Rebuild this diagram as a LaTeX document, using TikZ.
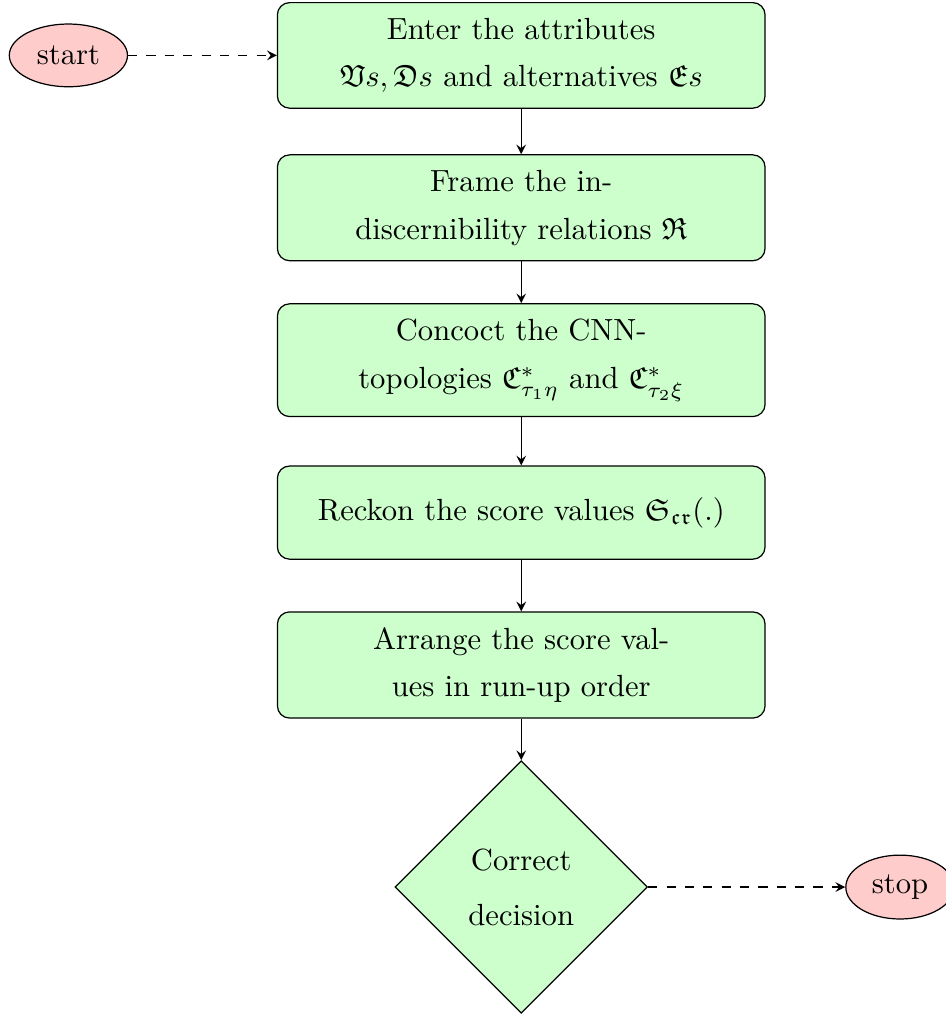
\documentclass[tikz,border=0pt]{standalone}
\usepackage{amsmath,amssymb}
\usetikzlibrary{shapes.geometric}
\begin{document}
\begin{tikzpicture}[node distance=1.75cm,
	startstop/.style={ellipse, minimum height=0.72cm, text centered, draw=black, fill=myred},
	process/.style={rectangle, rounded corners, minimum width=5.6cm, minimum height=1.07cm,
		inner ysep=5pt, align=center, font=\linespread{1.3}\selectfont, draw=black, fill=mygreen},
	decision/.style={diamond, minimum width=2.9cm, minimum height=2.9cm,
		align=center, font=\linespread{1.5}\selectfont, draw=black, fill=mygreen},
]
\definecolor{myred}{HTML}{FFCCCC}
\definecolor{mygreen}{HTML}{CCFFCC}
\useasboundingbox (-170.3pt,-313.2pt) rectangle (138.6pt,18.1pt);

\node (enter) [process] at (0,0) {Enter the attributes\\ $\mathfrak{V}s, \mathfrak{D}s$ and alternatives $\mathfrak{E}s$};
\node (start) [startstop, left of=enter, xshift=-3.45cm] {start};
\node (frame) [process, below of=enter] {Frame the in-\\discernibility relations $\mathfrak{R}$};
\node (concoct) [process, below of=frame] {Concoct the CNN-\\topologies $\mathfrak{C}^*_{\tau_1\eta}$ and $\mathfrak{C}^*_{\tau_2\xi}$};
\node (reckon) [process, below of=concoct] {Reckon the score values $\mathfrak{S}_{\mathfrak{cr}}(.)$};
\node (arrange) [process, below of=reckon] {Arrange the score val-\\ues in run-up order};
\node (dec) [decision, below of=arrange, yshift=-0.8cm] {Correct\\decision};
\node (stop) [startstop, right of=dec, xshift=2.6cm] {stop};

\begin{scope}[-stealth]
\draw[dashed] (start) -- (enter);
\draw (enter) -- (frame);
\draw (frame) -- (concoct);
\draw (concoct) -- (reckon);
\draw (reckon) -- (arrange);
\draw (arrange) -- (dec);
\draw[dashed] (dec) -- (stop);
\end{scope}
\end{tikzpicture}
\end{document}
